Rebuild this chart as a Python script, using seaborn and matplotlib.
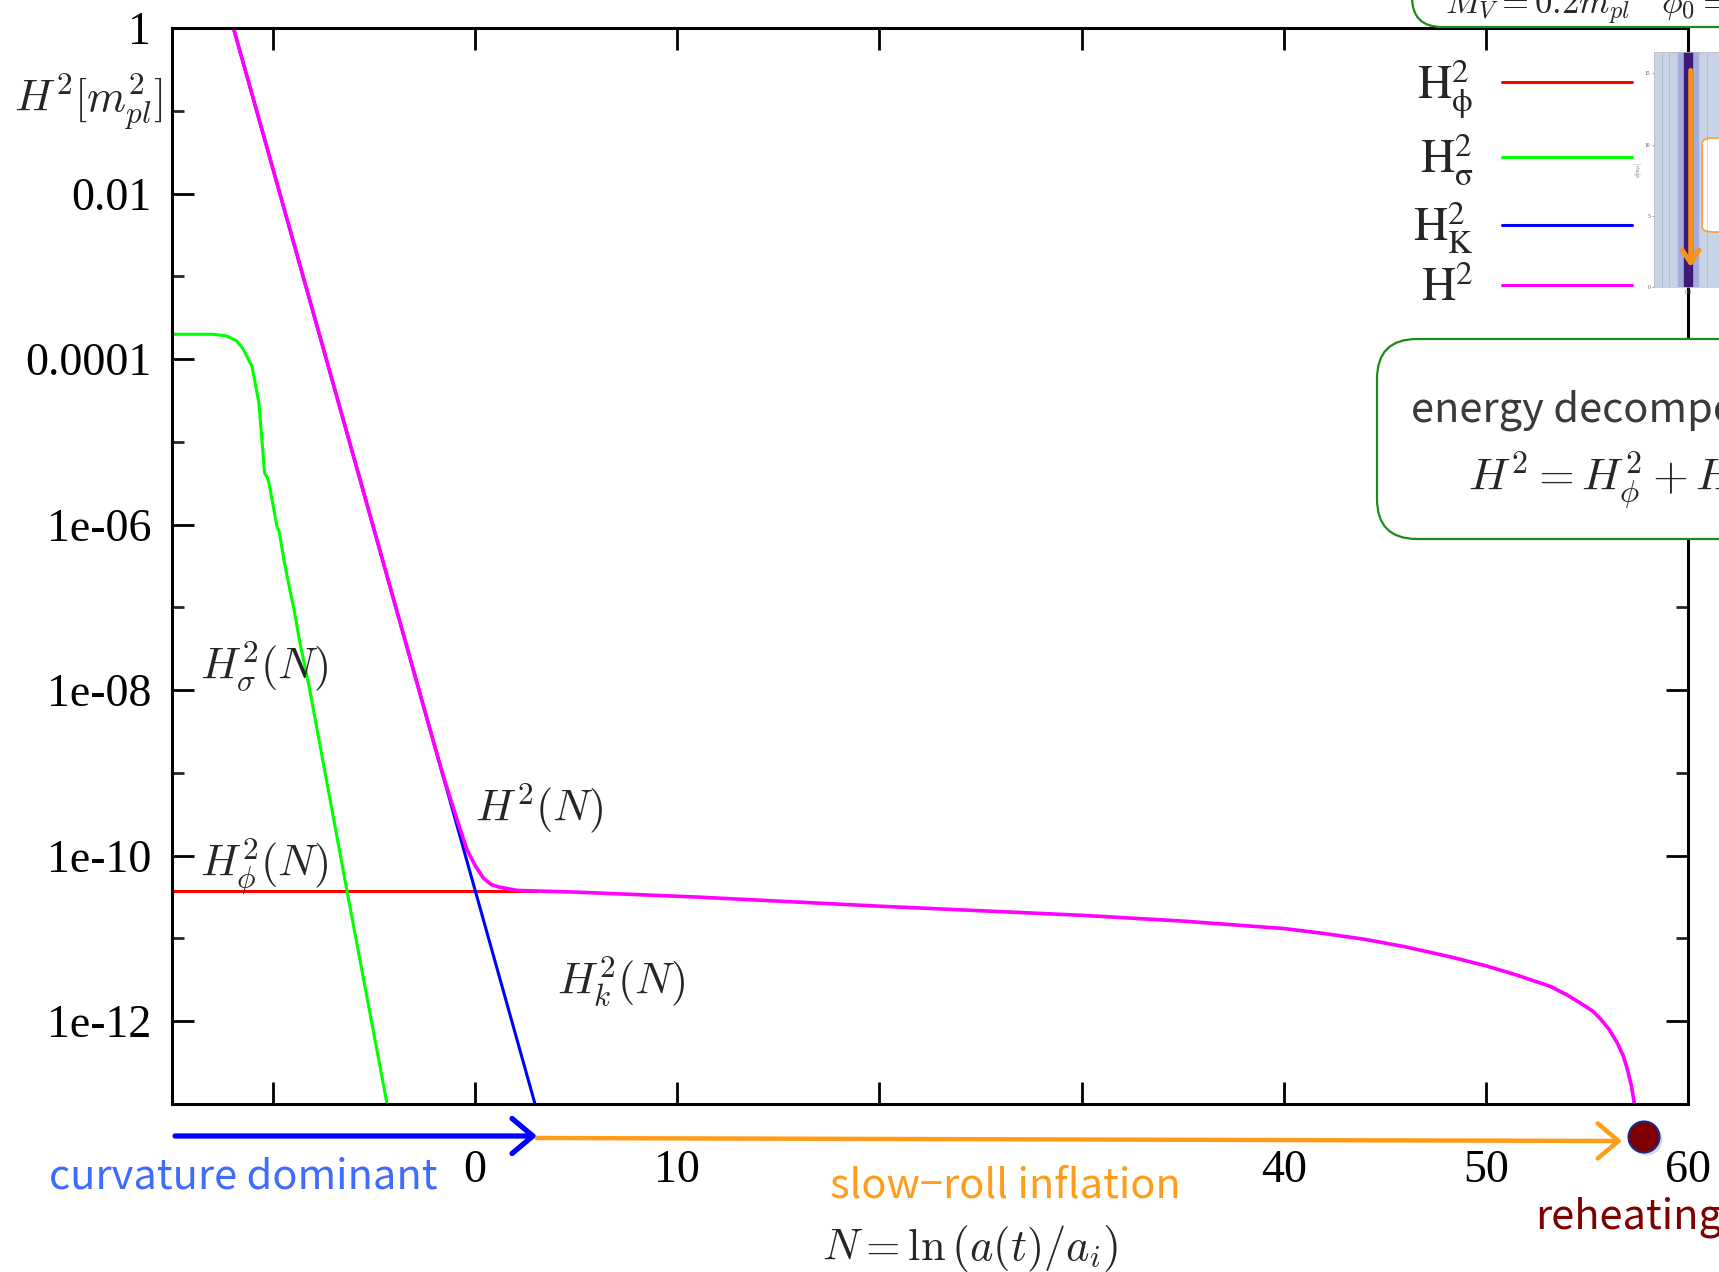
import matplotlib
matplotlib.use("Agg")
import matplotlib.pyplot as plt
import matplotlib.transforms as mtransforms
from matplotlib.patches import FancyBboxPatch, Circle
from matplotlib.ticker import FixedLocator, NullFormatter
import numpy as np
import pandas as pd
import seaborn as sns

# ---- energy components vs e-folds N = ln(a/a_i), values are log10(H^2 / m_pl^2) ----
n_phi = [-15.0, -5.0, 0.0, 3.0]
log_h2_phi = [-10.43, -10.43, -10.43, -10.43]

n_sigma = [-15.0, -13.0, -12.3, -11.8, -11.5, -11.04, -10.7, -10.5, -10.42, -10.3,
           -10.2, -9.8, -9.7, -9.46, -9.2, -8.96, -8.67, -8.22, -6.34, -4.36]
log_h2_sigma = [-3.70, -3.70, -3.72, -3.78, -3.87, -4.09, -4.53, -5.13, -5.38, -5.42,
                -5.50, -6.03, -6.08, -6.43, -6.75, -7.03, -7.43, -7.95, -10.43, -13.0]

n_kin = [-11.96, -4.5, 2.96]
log_h2_kin = [0.0, -6.50, -13.0]

n_total = [-11.96, -6.0, -2.0, -1.6, -1.2, -0.8, -0.4, 0.0, 0.4, 0.8, 1.2, 2.1, 5.0,
           11.0, 20.0, 30.0, 35.0, 40.0, 42.0, 44.0, 46.0, 48.2, 50.0, 51.5, 53.2,
           54.0, 54.8, 55.3, 55.7, 56.1, 56.5, 56.8, 57.0, 57.2, 57.35]
log_h2_total = [0.0, -5.19, -8.68, -9.02, -9.33, -9.64, -9.93, -10.12, -10.27, -10.35,
                -10.38, -10.42, -10.44, -10.50, -10.61, -10.72, -10.79, -10.88, -10.94,
                -11.01, -11.10, -11.22, -11.33, -11.44, -11.58, -11.68, -11.80, -11.88,
                -11.98, -12.10, -12.26, -12.42, -12.58, -12.78, -13.0]

x_ticks = [-10, 0, 10, 20, 30, 40, 50, 60]
x_tick_labels = ["", "0", "10", "", "", "40", "50", "60"]
y_ticks = [1e0, 1e-2, 1e-4, 1e-6, 1e-8, 1e-10, 1e-12]
y_tick_labels = ["1", "0.01", "0.0001", "1e-06", "1e-08", "1e-10", "1e-12"]
y_minor = [1e-1, 1e-3, 1e-5, 1e-7, 1e-9, 1e-11]

legend_labels = [r"$\mathrm{H}_{\mathrm{\phi}}^{2}$", r"$\mathrm{H}_{\mathrm{\sigma}}^{2}$",
                 r"$\mathrm{H}_{\mathrm{K}}^{2}$", r"$\mathrm{H}^{2}$"]

series = pd.concat([
    pd.DataFrame({"N": n_phi, "H2": np.power(10.0, log_h2_phi), "part": "phi"}),
    pd.DataFrame({"N": n_sigma, "H2": np.power(10.0, log_h2_sigma), "part": "sigma"}),
    pd.DataFrame({"N": n_kin, "H2": np.power(10.0, log_h2_kin), "part": "kin"}),
    pd.DataFrame({"N": n_total, "H2": np.power(10.0, log_h2_total), "part": "total"}),
], ignore_index=True)

sns.set_theme(style="ticks")
plt.rcParams["font.family"] = ["Liberation Serif", "DejaVu Serif"]
plt.rcParams["mathtext.fontset"] = "cm"

W, H = 1719, 1272
fig = plt.figure(figsize=(W / 100, H / 100), dpi=100)
fig.patch.set_facecolor("white")


def fx(px):
    return px / W


def fy(py):
    return 1 - py / H


ax = fig.add_axes([fx(172), fy(1104), (1688 - 172) / W, (1104 - 28) / H])
ax.set_facecolor("white")

styles = {"phi": ("#ff0000", 2.2), "sigma": ("#00ff00", 2.2),
          "kin": ("#0000ff", 2.2), "total": ("#ff00ff", 2.6)}
lines = {}
for part in ["phi", "sigma", "kin", "total"]:
    d = series[series["part"] == part]
    c, lw = styles[part]
    sns.lineplot(data=d, x="N", y="H2", ax=ax, color=c, lw=lw, sort=False,
                 estimator=None, legend=False)
    lines[part] = ax.get_lines()[-1]

ax.set_yscale("log")
ax.set_xlim(-15, 60)
ax.set_ylim(1e-13, 1)
ax.set_xticks(x_ticks)
ax.set_xticklabels(x_tick_labels)
ax.set_yticks(y_ticks)
ax.set_yticklabels(y_tick_labels)
ax.yaxis.set_minor_locator(FixedLocator(y_minor))
ax.yaxis.set_minor_formatter(NullFormatter())
ax.xaxis.set_minor_locator(FixedLocator([]))

for s in ax.spines.values():
    s.set_linewidth(2.2)
    s.set_color("black")
ax.tick_params(which="major", direction="in", length=16, width=2.0, top=True,
               right=True, labelsize=33, colors="black")
ax.tick_params(which="minor", direction="in", length=8.6, width=2.0, left=True,
               right=True)
ax.tick_params(axis="y", which="major", pad=15)
ax.tick_params(axis="x", which="major", pad=33)

ax.set_xlabel(r"$N=\ln\left(a(t)/a_i\right)$", fontsize=32)
ax.xaxis.set_label_coords((970 - 172) / 1516, (1104 - 1248) / 1076)
ax.xaxis.label.set_va("center")
ax.set_ylabel(r"$H^2[m_{pl}^2]$", fontsize=32, rotation=0)
ax.yaxis.set_label_coords((163 - 172) / 1516, (1104 - 101) / 1076)
ax.yaxis.label.set_ha("right")
ax.yaxis.label.set_va("center")

# curve annotations
ax.text(-13.6, 10 ** -7.87, r"$H_\sigma^2(N)$", fontsize=32, va="baseline")
ax.text(-13.6, 10 ** -10.25, r"$H_\phi^2(N)$", fontsize=32, va="baseline")
ax.text(0.0, 10 ** -9.59, r"$H^2(N)$", fontsize=32, va="baseline")
ax.text(4.05, 10 ** -11.68, r"$H_k^2(N)$", fontsize=32, va="baseline")

# legend: labels on the left of the line samples
leg = ax.legend([lines["phi"], lines["sigma"], lines["kin"], lines["total"]],
                legend_labels, loc="upper right",
                bbox_to_anchor=(fx(1632), fy(57)), bbox_transform=fig.transFigure,
                frameon=False, fontsize=34, markerfirst=False, handlelength=2.75,
                handletextpad=0.6, labelspacing=0.24, borderpad=0, borderaxespad=0)
for t in leg.get_texts():
    t.set_math_fontfamily("stix")
for h in leg.legend_handles:
    h.set_linewidth(2.2)

# ---- slide overlays ----
pix = mtransforms.IdentityTransform()

# field-space trajectory thumbnail
ax_in = fig.add_axes([fx(1654), fy(287), (1800 - 1654) / W, (287 - 52) / H])
ax_in.set_facecolor("#c6d4e6")
ax_in.set_xlim(-1, 3.3)
ax_in.set_ylim(0, 16.5)
for xv, a in [(-0.75, 0.5), (-0.55, 0.4), (0.55, 0.4), (0.9, 0.5), (1.5, 0.4)]:
    ax_in.axvline(xv, color="#8a97aa", lw=0.6, alpha=a)
ax_in.axvspan(-0.3, 0.3, color="#a5addc")
ax_in.axvspan(-0.12, 0.12, color="#3d1978")
ax_in.annotate("", xy=(0.08, 1.2), xytext=(0.08, 15.4),
               arrowprops=dict(arrowstyle="->,head_length=0.45,head_width=0.3",
                               lw=3.5, color="#f7941d", mutation_scale=20))
ax_in.add_patch(FancyBboxPatch((0.42, 3.86), 3.0, 6.6,
                               boxstyle="round,pad=0,rounding_size=0.35",
                               fc="white", ec="#f7a040", lw=1.2, clip_on=False))
ax_in.set_xticks([0.0])
ax_in.set_xticklabels(["0.0"])
ax_in.set_yticks([0, 5, 10, 15])
ax_in.tick_params(labelsize=4, length=1.5, width=0.4, pad=1, colors="#555555")
ax_in.set_ylabel(r"$\phi[m_{pl}]$", fontsize=4, labelpad=1, color="#555555")
for s in ax_in.spines.values():
    s.set_linewidth(0.5)
    s.set_color("#bbbbbb")

# parameter box at the top edge
fig.add_artist(FancyBboxPatch((1412, H - 27), 500, 120,
                              boxstyle="round,pad=0,rounding_size=30",
                              fc="white", ec="#198c19", lw=1.6, transform=pix,
                              zorder=5))
fig.text(fx(1445), fy(14), r"$M_V=0.2m_{pl}\quad\phi_0=$", fontsize=25,
         va="baseline", zorder=6)

# energy decomposition box
fig.add_artist(FancyBboxPatch((1377, H - 539), 500, 200,
                              boxstyle="round,pad=0,rounding_size=40",
                              fc="white", ec="#198c19", lw=1.6, transform=pix,
                              zorder=5))
fig.text(fx(1411), fy(410), "energy decomposition", fontsize=30, color="#3a3a3a",
         family=["Noto Sans CJK JP", "DejaVu Sans"], va="center", zorder=6)
fig.text(fx(1468), fy(480), r"$H^2=H_\phi^2+H_\sigma^2+H_K^2$", fontsize=33,
         va="center", zorder=6)

# phase arrows below the axis
ax.annotate("", xy=(537, H - 1136), xytext=(175, H - 1136),
            xycoords="figure pixels", textcoords="figure pixels",
            annotation_clip=False,
            arrowprops=dict(arrowstyle="->,head_length=0.5,head_width=0.42",
                            lw=3.8, color="#0000ff", mutation_scale=30,
                            shrinkA=0, shrinkB=0))
ax.annotate("", xy=(1622, H - 1141), xytext=(537, H - 1138),
            xycoords="figure pixels", textcoords="figure pixels",
            annotation_clip=False,
            arrowprops=dict(arrowstyle="->,head_length=0.5,head_width=0.42",
                            lw=3.2, color="#ff9d1a", mutation_scale=30,
                            shrinkA=0, shrinkB=0))
fig.add_artist(Circle((1647, H - 1140), 15.5, transform=pix, fc="#999999",
                      ec="none", alpha=0.35, zorder=5))
fig.add_artist(Circle((1644, H - 1137), 15.5, transform=pix, fc="#800000",
                      ec="#1a2a8c", lw=1.5, zorder=6))

cjk = ["Noto Sans CJK JP", "DejaVu Sans"]
fig.text(fx(49), fy(1177), "curvature dominant", fontsize=30, color="#3d6cff",
         family=cjk, va="center")
fig.text(fx(830), fy(1186), "slow\u2212roll inflation", fontsize=30, color="#ff9d1a",
         family=cjk, va="center")
fig.text(fx(1535), fy(1217), "reheating", fontsize=30, color="#800000",
         family=cjk, va="center")

fig.savefig("out.png", dpi=100, facecolor="white")
